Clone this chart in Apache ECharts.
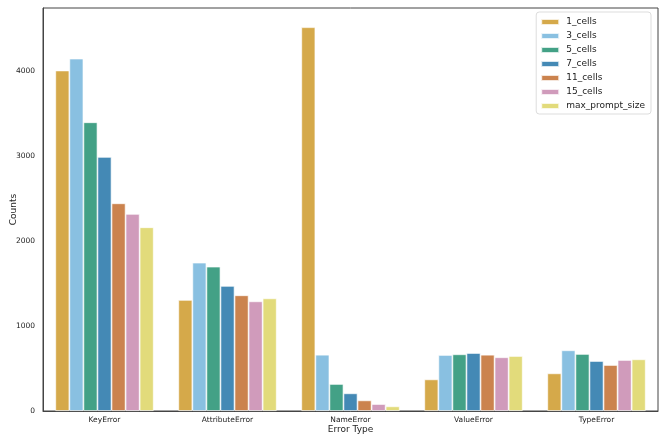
<!DOCTYPE html>
<html>
<head>
<meta charset="utf-8">
<script src="https://cdn.jsdelivr.net/npm/echarts@6/dist/echarts.min.js"></script>
<style>html,body{margin:0;padding:0;background:#fff}#c{width:664px;height:443px}</style>
</head>
<body>
<div id="c"></div>
<script>
const categories = ['KeyError', 'AttributeError', 'NameError', 'ValueError', 'TypeError'];
const seriesNames = ['1_cells', '3_cells', '5_cells', '7_cells', '11_cells', '15_cells', 'max_prompt_size'];
const cells1 = [4005, 1306, 4514, 372, 443];
const cells3 = [4145, 1745, 662, 659, 714];
const cells5 = [3396, 1698, 318, 667, 671];
const cells7 = [2988, 1471, 208, 682, 588];
const cells11 = [2443, 1361, 125, 662, 541];
const cells15 = [2318, 1290, 82, 632, 600];
const maxPrompt = [2161, 1325, 55, 647, 608];
const yTicks = [0, 1000, 2000, 3000, 4000];

const allData = [cells1, cells3, cells5, cells7, cells11, cells15, maxPrompt];
const colors = ['#D5A94A', '#89C0E1', '#43A186', '#4489B5', '#CB834E', '#D09BBB', '#E2DB7B'];
const font = 'DejaVu Sans';

const chart = echarts.init(document.getElementById('c'), null, {renderer: 'canvas'});
chart.setOption({
  animation: false,
  backgroundColor: '#fff',
  grid: {left: 43, right: 6, top: 8, bottom: 32, containLabel: false, outerBoundsMode: 'none',
    show: true, borderColor: '#444', borderWidth: 1, backgroundColor: 'transparent'},
  legend: {
    orient: 'vertical', right: 13, top: 12,
    itemWidth: 18, itemHeight: 6, itemGap: 4,
    padding: [5, 6, 3, 4],
    borderColor: '#ddd', borderWidth: 1, borderRadius: 3,
    backgroundColor: '#fff',
    icon: 'rect',
    textStyle: {fontFamily: font, fontSize: 9, lineHeight: 10, color: '#222', padding: [0, 0, 0, 2]},
    data: seriesNames
  },
  xAxis: {
    type: 'category', data: categories,
    name: 'Error Type', nameLocation: 'middle', nameGap: 14, nameMoveOverlap: false,
    nameTextStyle: {fontFamily: font, fontSize: 9, color: '#222'},
    axisLine: {lineStyle: {color: '#444', width: 1}},
    axisTick: {show: false},
    axisLabel: {fontFamily: font, fontSize: 7.5, color: '#222', margin: 5}
  },
  yAxis: {
    type: 'value', min: 0, max: 4740, interval: 1000,
    name: 'Counts', nameLocation: 'middle', nameGap: 25, nameMoveOverlap: false,
    nameTextStyle: {fontFamily: font, fontSize: 9, color: '#222'},
    axisLine: {show: true, lineStyle: {color: '#444', width: 1}},
    axisTick: {show: false},
    splitLine: {show: false},
    axisLabel: {fontFamily: font, fontSize: 7.5, color: '#222', margin: 8, showMaxLabel: false,
      formatter: v => yTicks.includes(v) ? String(v) : ''}
  },
  series: seriesNames.map((n, i) => ({
    name: n, type: 'bar', data: allData[i],
    barGap: '0%', barCategoryGap: '20%',
    itemStyle: {color: colors[i], borderColor: 'rgba(255,255,255,0.8)', borderWidth: 0.8}
  }))
});
</script>
</body>
</html>
